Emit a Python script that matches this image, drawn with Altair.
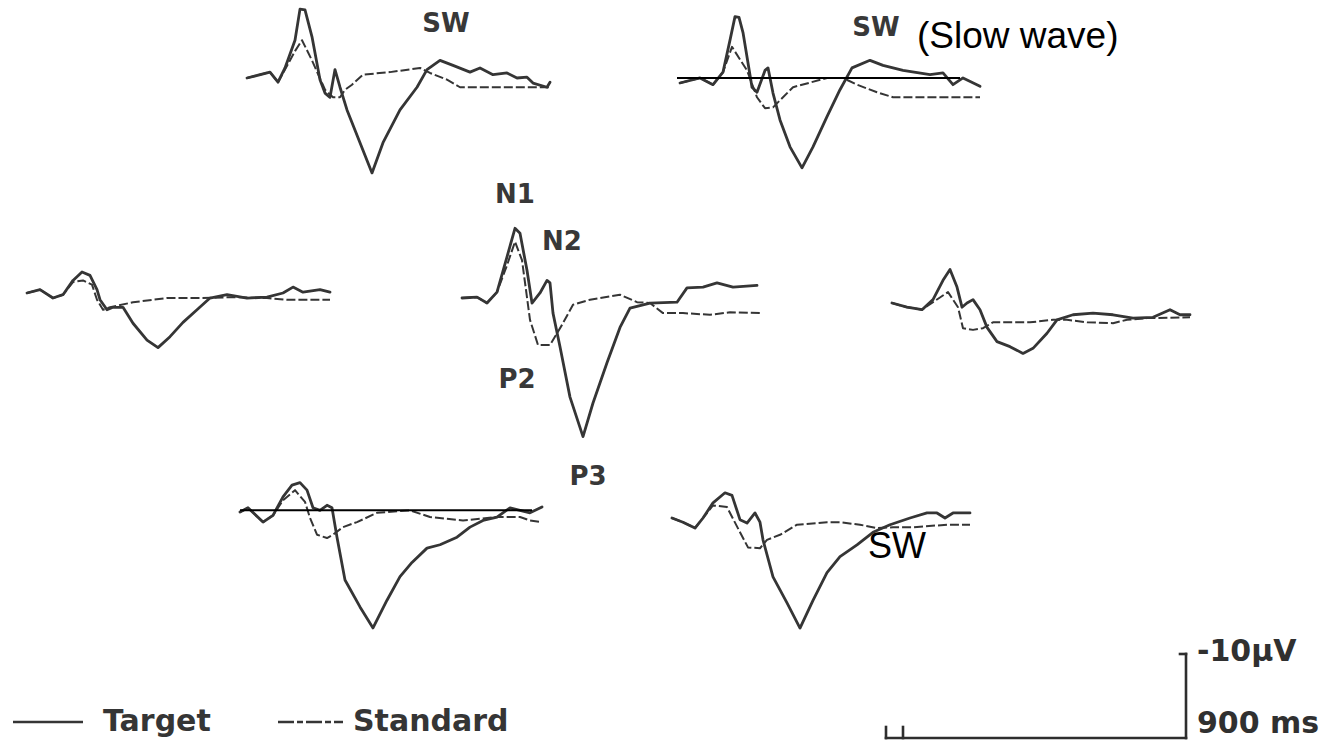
import altair as alt
import pandas as pd

# Recording scale: the calibration bar is 900 ms wide and 10 µV tall
BAR_MS = 900
BAR_UV = 10
PX_PER_MS = 300 / BAR_MS
PX_PER_UV = 84 / BAR_UV

W, H = 1328, 743
INK = "#353535"

# ---- grand-average ERPs: epoch time (ms) and amplitude (µV, negative up) ----
a_target_t = [0, 69, 93, 114, 144, 159, 174, 195, 219, 234, 249, 264, 279, 300, 339, 375, 408, 459,
              510, 540, 579, 618, 669, 699, 738, 780, 810, 840, 858, 900, 909]
a_target_uv = [0, -0.7, 0.5, -1.2, -4.5, -8.2, -8.1, -4.9, 0.2, 1.8, 2.3, -1.0, 1.1, 3.8, 7.7, 11.3, 7.7, 3.8,
               1.1, -1.0, -2.1, -1.5, -0.7, -1.2, -0.4, -0.6, 0.0, -0.1, 0.6, 1.1, 0.5]
a_standard_t = [0, 69, 93, 114, 144, 165, 195, 234, 258, 279, 294, 315, 348, 429, 519, 549, 600, 639,
                738, 858, 909]
a_standard_uv = [0, -0.7, 0.5, -1.0, -3.2, -4.5, -2.1, 1.4, 2.3, 2.3, 1.4, 0.8, -0.4, -0.7, -1.2, -0.6,
                 0.2, 1.1, 1.1, 1.1, 1.1]

b_target_t = [0, 60, 99, 129, 150, 165, 177, 189, 216, 231, 255, 264, 279, 300, 330, 366, 399, 441,
              480, 516, 570, 609, 669, 750, 789, 819, 849, 900]
b_target_uv = [0, -0.6, 0.2, -1.3, -5.1, -7.9, -7.8, -6.0, 0.5, 1.1, -1.5, -1.8, 1.2, 4.4, 7.6, 10.1, 7.6, 4.0,
               0.8, -1.8, -2.7, -2.1, -1.5, -1.0, -1.2, 0.2, -0.6, 0.4]
b_standard_t = [0, 60, 99, 129, 156, 201, 231, 255, 279, 309, 339, 441, 489, 531, 591, 639, 729, 900]
b_standard_uv = [0, -0.6, 0.2, -1.3, -4.3, -1.5, 1.7, 3.0, 2.9, 1.7, 0.5, -0.6, -0.6, 0.2, 1.1, 1.7, 1.7, 1.7]

c_target_t = [0, 39, 78, 108, 138, 165, 189, 210, 219, 240, 258, 288, 318, 360, 393, 429, 468, 510,
              549, 600, 660, 720, 768, 798, 828, 879, 909]
c_target_uv = [0, -0.4, 0.6, 0.2, -1.5, -2.5, -2.1, -0.4, 0.8, 2.0, 1.7, 1.7, 3.6, 5.6, 6.5, 5.2, 3.5, 2.0,
               0.6, 0.2, 0.6, 0.5, 0.0, -0.7, -0.1, -0.4, -0.1]
c_standard_t = [0, 39, 78, 108, 138, 168, 195, 210, 228, 249, 318, 420, 519, 618, 720, 780, 909]
c_standard_uv = [0, -0.4, 0.6, 0.2, -1.3, -1.5, -1.0, 0.8, 2.0, 1.7, 1.1, 0.6, 0.6, 0.5, 0.6, 0.8, 0.8]

d_target_t = [0, 45, 75, 105, 135, 159, 174, 195, 210, 234, 255, 264, 273, 294, 324, 363, 393, 435,
              474, 504, 564, 645, 675, 723, 765, 813, 885]
d_target_uv = [0, -0.1, 0.6, -0.7, -4.9, -8.3, -7.7, -3.3, 0.6, -0.6, -2.1, -1.8, 1.8, 5.8, 11.8, 16.5, 12.5, 7.7,
               3.5, 1.2, 0.6, 0.5, -1.2, -1.3, -1.8, -1.3, -1.5]
d_standard_t = [0, 45, 75, 105, 135, 159, 180, 204, 228, 264, 282, 300, 333, 384, 474, 525, 564, 603,
                663, 744, 804, 894]
d_standard_uv = [0, -0.1, 0.6, -0.7, -3.9, -6.7, -4.5, 2.6, 5.6, 5.6, 4.4, 3.2, 0.8, 0.2, -0.4, 0.5, 0.6, 1.8,
                 1.8, 2.0, 1.7, 1.8]

e_target_t = [0, 45, 90, 123, 153, 174, 195, 210, 225, 243, 264, 285, 315, 354, 393, 423, 465, 495,
              543, 603, 663, 723, 783, 834, 864, 894]
e_target_uv = [0, 0.5, 0.8, -0.4, -2.7, -4.0, -1.9, 0.5, 0.0, -0.4, 0.8, 2.9, 4.6, 5.2, 6.0, 5.4, 3.6, 2.0,
               1.4, 1.2, 1.4, 1.8, 1.7, 0.8, 1.4, 1.4]
e_standard_t = [0, 45, 90, 123, 168, 198, 213, 243, 273, 303, 414, 483, 525, 585, 663, 705, 765, 894]
e_standard_uv = [0, 0.5, 0.8, -0.1, -1.3, 0.5, 3.0, 3.2, 3.0, 2.3, 2.3, 2.0, 2.0, 2.3, 2.4, 2.0, 1.8, 1.7]

f_target_t = [0, 24, 69, 99, 129, 156, 180, 201, 219, 240, 261, 276, 291, 315, 360, 399, 441, 480,
              516, 561, 600, 651, 690, 729, 771, 810, 840, 870, 906]
f_target_uv = [0, -0.5, 1.2, 0.4, -1.8, -3.2, -3.5, -2.6, -0.5, -0.2, -0.8, -0.5, 3.0, 8.1, 11.3, 13.8, 10.5, 7.7,
               6.0, 4.3, 3.9, 3.0, 1.8, 1.0, 0.6, -0.5, -0.2, 0.1, -0.6]
f_standard_t = [0, 24, 69, 99, 129, 165, 195, 210, 231, 261, 279, 309, 351, 411, 510, 570, 669, 771,
                840, 870, 906]
f_standard_uv = [0, -0.5, 1.2, 0.4, -1.4, -2.6, -1.2, 0.7, 2.7, 3.1, 2.7, 1.8, 1.2, 0.1, -0.2, 0.6, 1.0, 0.6,
                 0.6, 1.0, 1.2]

g_target_t = [0, 33, 69, 93, 123, 159, 180, 204, 225, 249, 264, 273, 303, 345, 384, 423, 465, 504,
              555, 603, 654, 714, 765, 795, 819, 843, 894]
g_target_uv = [0, 0.5, 1.2, 0.0, -1.8, -3.0, -2.7, 0.2, 0.6, -0.6, 0.5, 2.6, 7.0, 10.1, 13.1, 9.8, 6.5, 4.6,
               3.2, 1.7, 0.8, 0.0, -0.6, -0.6, 0.0, -0.6, -0.6]
g_standard_t = [0, 33, 69, 93, 123, 165, 204, 228, 264, 285, 324, 375, 465, 504, 564, 615, 663, 723,
                825, 894]
g_standard_uv = [0, 0.5, 1.2, 0.0, -1.5, -1.3, 1.7, 3.5, 3.6, 2.6, 2.0, 0.8, 0.5, 0.5, 0.8, 1.2, 1.1, 1.1,
                 0.8, 0.8]

# Electrode panels: sweep start on the page (px) and the traces drawn there
panel_origin = {
    "A": (247, 78), "B": (680, 83),
    "C": (27, 293), "D": (462, 298), "E": (892, 303),
    "F": (240, 512), "G": (672, 518),
}
traces = {
    "A": (a_target_t, a_target_uv, a_standard_t, a_standard_uv),
    "B": (b_target_t, b_target_uv, b_standard_t, b_standard_uv),
    "C": (c_target_t, c_target_uv, c_standard_t, c_standard_uv),
    "D": (d_target_t, d_target_uv, d_standard_t, d_standard_uv),
    "E": (e_target_t, e_target_uv, e_standard_t, e_standard_uv),
    "F": (f_target_t, f_target_uv, f_standard_t, f_standard_uv),
    "G": (g_target_t, g_target_uv, g_standard_t, g_standard_uv),
}

# Pre-stimulus reference lines (panel, from ms, to ms, level µV)
ref_panel = ["B", "F"]
ref_t0 = [-9, 0]
ref_t1 = [840, 876]
ref_uv = [-0.6, -0.2]

rows = []
for p, (tt, tu, st, su) in traces.items():
    ox, oy = panel_origin[p]
    for series, ts, us in (("Target", tt, tu), ("Standard", st, su)):
        for i, (t, u) in enumerate(zip(ts, us)):
            rows.append({"panel": p, "series": series, "i": i, "t": t, "uv": u, "ox": ox, "oy": oy})
waves = pd.DataFrame(rows)

refs = pd.DataFrame({
    "panel": ref_panel, "t0": ref_t0, "t1": ref_t1, "uv": ref_uv,
    "ox": [panel_origin[p][0] for p in ref_panel],
    "oy": [panel_origin[p][1] for p in ref_panel],
})

xs = alt.Scale(domain=[0, W], nice=False, zero=False)
ys = alt.Scale(domain=[0, H], nice=False, zero=False, reverse=True)


def X(f):
    return alt.X(f, type="quantitative", scale=xs, axis=None)


def Y(f):
    return alt.Y(f, type="quantitative", scale=ys, axis=None)


to_px = dict(px=f"datum.ox + datum.t * {PX_PER_MS}", py=f"datum.oy + datum.uv * {PX_PER_UV}")

target = alt.Chart(waves).transform_filter("datum.series == 'Target'").transform_calculate(**to_px).mark_line(
    color=INK, strokeWidth=2.8, strokeJoin="round", strokeCap="round"
).encode(x=X("px"), y=Y("py"), detail="panel:N", order="i:Q")

standard = alt.Chart(waves).transform_filter("datum.series == 'Standard'").transform_calculate(**to_px).mark_line(
    color=INK, strokeWidth=2.0, strokeDash=[9, 3], strokeJoin="round"
).encode(x=X("px"), y=Y("py"), detail="panel:N", order="i:Q")

ref_lines = alt.Chart(refs).transform_calculate(
    px0=f"datum.ox + datum.t0 * {PX_PER_MS}",
    px1=f"datum.ox + datum.t1 * {PX_PER_MS}",
    py=f"datum.oy + datum.uv * {PX_PER_UV}",
).mark_rule(color="black", strokeWidth=2).encode(x=X("px0"), x2="px1:Q", y=Y("py"))

# Calibration bar: corner at the lower right, 900 ms across and -10 µV up
corner_x, corner_y = 1186, 738
bar = pd.DataFrame({
    "x0": [corner_x - BAR_MS * PX_PER_MS, corner_x, corner_x - 6, corner_x - BAR_MS * PX_PER_MS,
           corner_x - BAR_MS * PX_PER_MS + 17],
    "x1": [corner_x, corner_x, corner_x, corner_x - BAR_MS * PX_PER_MS, corner_x - BAR_MS * PX_PER_MS + 17],
    "y0": [corner_y, corner_y, corner_y - BAR_UV * PX_PER_UV, corner_y, corner_y],
    "y1": [corner_y, corner_y - BAR_UV * PX_PER_UV, corner_y - BAR_UV * PX_PER_UV, corner_y - 11, corner_y - 11],
})
bar_rules = alt.Chart(bar).mark_rule(color="#2e2e2e", strokeWidth=2.6, strokeCap="square").encode(
    x=X("x0"), x2="x1:Q", y=Y("y0"), y2="y1:Q"
)

# Legend keys
legend_labels = ["Target", "Standard"]
legend = pd.DataFrame({"label": legend_labels, "x0": [13, 278], "x1": [83, 343], "tx": [103, 353], "y": [722, 722]})
legend_target = alt.Chart(legend).transform_filter("datum.label == 'Target'").mark_rule(
    color=INK, strokeWidth=2.4).encode(x=X("x0"), x2="x1:Q", y=Y("y"))
legend_standard = alt.Chart(legend).transform_filter("datum.label == 'Standard'").mark_rule(
    color=INK, strokeWidth=2.4, strokeDash=[16, 3, 6, 3]).encode(x=X("x0"), x2="x1:Q", y=Y("y"))
legend_text = alt.Chart(legend).mark_text(
    font="DejaVu Sans", fontSize=30, fontWeight="bold", color=INK, align="left", baseline="middle"
).encode(x=X("tx"), y=Y("y"), text="label:N")

# Component labels in the original lettering
comp = pd.DataFrame({
    "label": ["SW", "SW", "N1", "N2", "P2", "P3", "-10µV", "900 ms"],
    "x": [446, 876, 515, 562, 517, 588, 1197, 1197],
    "y": [24, 28, 195, 242, 380, 477, 652, 724],
    "align": ["center", "center", "center", "center", "center", "center", "left", "left"],
})
comp_center = alt.Chart(comp).transform_filter("datum.align == 'center'").mark_text(
    font="DejaVu Sans", fontSize=26, fontWeight="bold", color="#383838", align="center", baseline="middle"
).encode(x=X("x"), y=Y("y"), text="label:N")
comp_left = alt.Chart(comp).transform_filter("datum.align == 'left'").mark_text(
    font="DejaVu Sans", fontSize=30, fontWeight="bold", color="#303030", align="left", baseline="middle"
).encode(x=X("x"), y=Y("y"), text="label:N")

# Added notes in a sans-serif face
notes = pd.DataFrame({"label": ["(Slow wave)", "SW"], "x": [917, 868], "y": [48, 558], "size": [37, 36]})
notes_text = alt.Chart(notes).mark_text(
    font="Liberation Sans", color="black", align="left", baseline="alphabetic"
).encode(x=X("x"), y=Y("y"), text="label:N", size=alt.Size("size:Q", scale=None, legend=None))

chart = alt.layer(
    standard, target, ref_lines, bar_rules, legend_target, legend_standard, legend_text,
    comp_center, comp_left, notes_text,
).properties(
    width=W, height=H, autosize=alt.AutoSizeParams(type="none"), padding=0, background="white"
).configure_view(stroke=None)

chart.save("out.html", embed_options={"renderer": "svg", "actions": False})
